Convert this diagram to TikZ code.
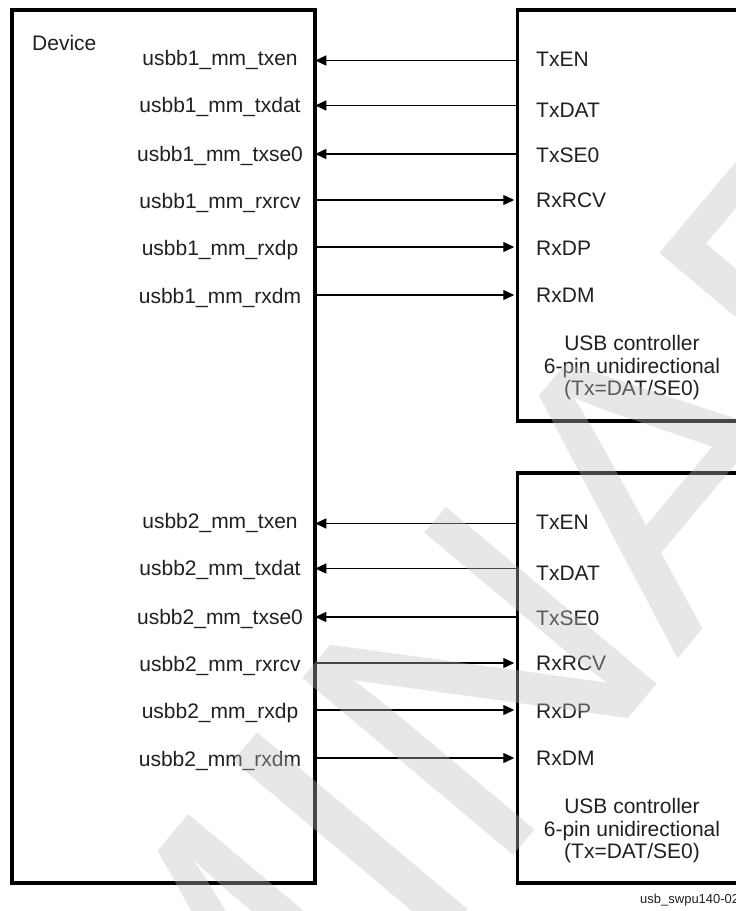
\documentclass[tikz,border=0pt]{standalone}
\usepackage{fontspec}
\setmainfont{Liberation Sans}
\usetikzlibrary{arrows.meta}
\definecolor{txt}{HTML}{231F20}
\definecolor{wmgray}{RGB}{190,190,190}
\begin{document}
\begin{tikzpicture}[x=1pt,y=-1pt,
  box/.style={draw=black, line width=3.5pt, inner sep=0pt},
  lbl/.style={font=\fontsize{21}{22.5}\selectfont, text=txt, inner sep=0pt},
  sig/.style={line width=1.3pt, draw=black, -{Triangle[length=11pt,width=10pt]}},
  wm/.style={font=\fontsize{400}{400}\selectfont, text=wmgray, opacity=0.37, inner sep=0pt}
]
\useasboundingbox (0,0) rectangle (736,911);
\clip (0,0) rectangle (736,911);
\fill[white] (0,0) rectangle (736,911);

% boxes
\node[box, minimum width=303pt, minimum height=873pt] (dev) at (163.5,446.5) {};
\node[box, minimum width=242.5pt, minimum height=411pt] (c1) at (638.75,215.5) {};
\node[box, minimum width=242.5pt, minimum height=410pt] (c2) at (638.75,678) {};

\node[lbl, anchor=base west] (devl) at (32,50) {Device};

\foreach \g/\off/\c in {1/0/c1, 2/463/c2} {
  % signals driven by the controller
  \foreach \i/\ay/\lb/\rb/\ln/\rn in {1/60.5/65.5/66.5/txen/TxEN, 2/105.5/112.5/117/txdat/TxDAT, 3/154/161.5/162/txse0/TxSE0} {
    \coordinate (r\g\i) at (0,{\ay+\off});
    \node[lbl, anchor=base] (l\g\i) at (220,{\lb+\off}) {usbb\g\_mm\_\ln};
    \node[lbl, anchor=base west] (p\g\i) at (536,{\rb+\off}) {\rn};
    \draw[sig, shorten >=-1.5pt] (\c.west |- r\g\i) -- (dev.east |- r\g\i);
  }
  % signals driven by the device
  \foreach \i/\ay/\lb/\rb/\ln/\rn in {4/200/208/207.5/rxrcv/RxRCV, 5/247/255.5/255/rxdp/RxDP, 6/295/303/302/rxdm/RxDM} {
    \coordinate (r\g\i) at (0,{\ay+\off});
    \node[lbl, anchor=base] (l\g\i) at (220,{\lb+\off}) {usbb\g\_mm\_\ln};
    \node[lbl, anchor=base west] (p\g\i) at (536,{\rb+\off}) {\rn};
    \draw[sig, shorten >=1.5pt] (dev.east |- r\g\i) -- (\c.west |- r\g\i);
  }
  \node[lbl, align=center] (t\g) at (632,{368+\off}) {USB controller\\6-pin unidirectional\\(Tx=DAT/SE0)};
}

\node[anchor=base west, font=\fontsize{13}{14}\selectfont, text=txt, inner sep=0pt] (cap) at (640,903) {usb\_swpu140-02};

% watermark
\node[wm, rotate=50, anchor=base west] (wmk) at (206.6,1221.4) {\llap{PRELI}MINARY};
\end{tikzpicture}
\end{document}
